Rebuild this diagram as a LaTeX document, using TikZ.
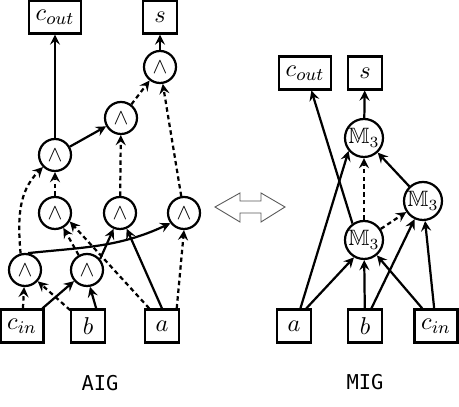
\documentclass[tikz,border=0pt]{standalone}
\usepackage{amsmath,amssymb}
\usepackage{fontspec}
\newfontfamily\labelfont{DejaVu Sans Mono}
\usepackage{tikz}
\usetikzlibrary{arrows}

\begin{document}
\begin{tikzpicture}[x=0.45pt,y=0.45pt,line width=1pt,>=stealth,
    gate/.style={draw,circle,inner sep=0pt,minimum size=14.4pt},
    maj/.style={draw,circle,inner sep=0pt,minimum size=17.1pt},
    port/.style={draw,rectangle,inner xsep=3pt,inner ysep=0pt,minimum height=14.8pt,minimum width=15pt,font=\fontsize{11}{13}\selectfont},
    neg/.style={dash pattern=on 2pt off 1.5pt}]

  \useasboundingbox (0,0) rectangle (459,407);

  % AIG outputs
  \node[port] (aco) at (55,390) {$c_{out}$};
  \node[port] (as) at (160,390) {$s$};

  % AIG gates
  \node[gate] (g4) at (160,340) {$\wedge$};
  \node[gate] (g3) at (121,289) {$\wedge$};
  \node[gate] (g2) at (55,252) {$\wedge$};
  \node[gate] (g5) at (55,194) {$\wedge$};
  \node[gate] (g6) at (120,194) {$\wedge$};
  \node[gate] (g7) at (184,194) {$\wedge$};
  \node[gate] (g0) at (25,137) {$\wedge$};
  \node[gate] (g1) at (87,137) {$\wedge$};

  % AIG inputs
  \node[port] (acin) at (22,81) {$c_{in}$};
  \node[port] (ab) at (88,81) {$b$};
  \node[port] (aa) at (162,81) {$a$};

  % AIG edges
  \draw[->,neg] (acin) -- (g0);
  \draw[->,neg] (ab) -- (g0);
  \draw[->] (acin) -- (g1);
  \draw[->] (ab.65) -- (g1.-80);
  \draw[->,neg] (g1) -- (g5);
  \draw[->,neg] (aa.126) -- (g5.-30);
  \draw[->] (g1.40) -- (g6.-112);
  \draw[->] (aa.north) -- (g6.-67);
  \draw[->] (g0.80) to[out=6,in=205] (g7.217);
  \draw[->,neg] (aa.50) -- (g7.south);
  \draw[->,neg] (g0.105) to[out=95,in=-135] (g2.-135);
  \draw[->,neg] (g5) -- (g2);
  \draw[->,neg] (g6) -- (g3);
  \draw[->,neg] (g7) -- (g4);
  \draw[->] (g2) -- (g3);
  \draw[->,neg] (g3) -- (g4);
  \draw[->] (g4) -- (as);
  \draw[->] (g2) -- (aco);

  % Double arrow
  \draw[thin,gray!70!black] (215,200) -- (240,214) -- (240,206) -- (261,206) -- (261,214)
    -- (285,200) -- (261,185) -- (261,194) -- (240,194) -- (240,185) -- cycle;

  % MIG outputs
  \node[port] (mco) at (305,334) {$c_{out}$};
  \node[port] (ms) at (365,334) {$s$};

  % MIG gates
  \node[maj] (m1) at (364,269) {$\mathbb{M}_3$};
  \node[maj] (m2) at (423,206) {$\mathbb{M}_3$};
  \node[maj] (m0) at (364,167) {$\mathbb{M}_3$};

  % MIG inputs
  \node[port] (ma) at (294,81) {$a$};
  \node[port] (mb) at (365,81) {$b$};
  \node[port] (mcin) at (436,81) {$c_{in}$};

  % MIG edges
  \draw[->] (ma.55) -- (m0.-120);
  \draw[->] (mb) -- (m0);
  \draw[->] (mcin.128) -- (m0.-50);
  \draw[->] (mb.70) -- (m2.-115);
  \draw[->] (mcin) -- (m2);
  \draw[->] (ma.70) -- (m1.-140);
  \draw[->,neg] (m0) -- (m2);
  \draw[->,neg] (m0) -- (m1);
  \draw[->] (m2) -- (m1);
  \draw[->] (m1) -- (ms);
  \draw[->] (m0.125) -- (mco.-70);

  % Labels
  \node (aiglabel) at (100,24) {\labelfont\fontsize{9.2}{11}\selectfont AIG};
  \node (miglabel) at (365,25) {\labelfont\fontsize{9.2}{11}\selectfont MIG};

\end{tikzpicture}
\end{document}
